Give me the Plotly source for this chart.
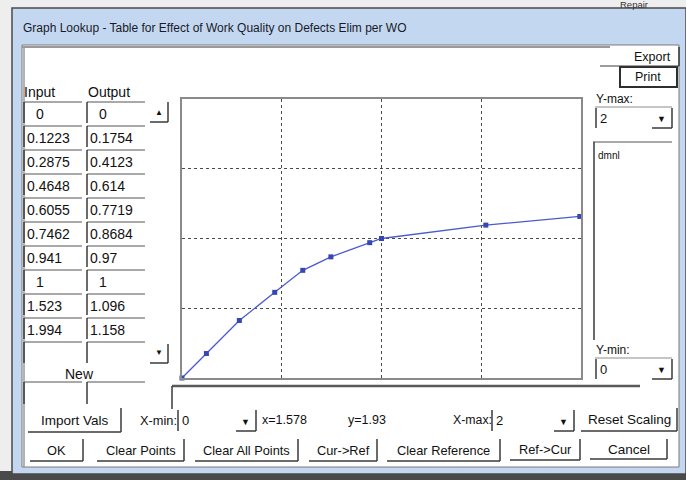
import plotly.graph_objects as go

# ---------------- data ----------------
input_vals = [0, 0.1223, 0.2875, 0.4648, 0.6055, 0.7462, 0.941, 1, 1.523, 1.994]
output_vals = [0, 0.1754, 0.4123, 0.614, 0.7719, 0.8684, 0.97, 1, 1.096, 1.158]
x_min, x_max = 0, 2
y_min, y_max = 0, 2
grid_ticks = [0.5, 1.0, 1.5]
cursor_x, cursor_y = 1.578, 1.93
title_text = "Graph Lookup - Table for Effect of Work Quality on Defects Elim per WO"
units_text = "dmnl"

W, H = 686, 480
FONT = "Liberation Sans, Arial, sans-serif"
DARK = "#3a3a3a"
MID = "#8c8c8c"


def X(px):
    return px / W


def Y(py):
    return 1 - py / H


shapes = []
annotations = []


def rect(x0, y0, x1, y1, fill=None, line=None, width=1):
    shapes.append(dict(type="rect", xref="paper", yref="paper",
                       x0=X(x0), x1=X(x1), y0=Y(y1), y1=Y(y0),
                       fillcolor=fill if fill else "rgba(0,0,0,0)",
                       line=dict(color=line if line else "rgba(0,0,0,0)", width=width if line else 0),
                       layer="below"))


def seg(x0, y0, x1, y1, color=DARK, width=1):
    shapes.append(dict(type="line", xref="paper", yref="paper",
                       x0=X(x0), x1=X(x1), y0=Y(y0), y1=Y(y1),
                       line=dict(color=color, width=width), layer="above"))


def text(x, y, s, size=12.5, anchor="left", color="#111111", family=FONT):
    annotations.append(dict(xref="paper", yref="paper", x=X(x), y=Y(y), text=s,
                            showarrow=False, xanchor=anchor, yanchor="middle",
                            font=dict(size=size, color=color, family=family)))


def button(x0, y0, x1, y1, label, size=12.8):
    seg(x1, y0, x1, y1, DARK, 1.5)
    seg(x0, y1, x1, y1, DARK, 1.5)
    text((x0 + x1) / 2, (y0 + y1) / 2, label, size=size, anchor="center")


def combo(x0, y0, x1, y1, value, arrow_x):
    seg(x0, y0, x0, y1, DARK, 1.5)
    text(x0 + 2, (y0 + y1) / 2, value, size=13)
    seg(arrow_x + 12, y0, arrow_x + 12, y1, DARK, 1.5)
    seg(arrow_x - 8, y1, arrow_x + 12, y1, DARK, 1.5)
    text(arrow_x + 1, (y0 + y1) / 2 + 1, "▼", size=9, anchor="center")


# ---------------- window chrome ----------------
rect(0, 0, 686, 480, fill="#eeeeee")
rect(0, 471, 686, 480, fill="#4a4a4a")
rect(12, 8, 686, 474, fill="#c3d8f0", line="#4a4a4a", width=1.5)
rect(22, 45, 679, 467, fill="#ffffff", line="#7a7a7a", width=1)
seg(22, 47, 610, 47, "#9a9a9a", 2)
seg(24, 47, 24, 467, "#9a9a9a", 1.5)
text(21, 28, title_text, size=12, color="#1a1a28")
text(618, 5, "Repair", size=9.5, color="#333333")

# right-side controls
text(673, 57, "Export", size=12.5, anchor="right")
seg(679, 47, 679, 66, DARK, 1.5)
seg(600, 66, 679, 66, DARK, 1)
rect(620, 67, 677, 87, line="#2e2e2e", width=2)
text(648, 77, "Print", size=12.5, anchor="center")

text(594, 99, "Y-max:", size=12)
seg(595, 107, 672, 107, MID, 1)
combo(596, 108, 672, 128, str(y_max), 660)

seg(593, 142, 672, 142, MID, 1.5)
seg(594, 142, 594, 340, DARK, 1.5)
text(596, 155, units_text, size=10)

text(594, 350, "Y-min:", size=12)
seg(595, 358, 672, 358, MID, 1)
combo(596, 359, 672, 379, str(y_min), 660)

# ---------------- lookup table ----------------
TS = 14
text(22, 92, "Input", size=TS)
text(86, 92, "Output", size=TS)
row0 = 102
step = 24
n_rows = 11
for i in range(n_rows):
    top = row0 + step * i
    seg(24, top, 82, top, MID, 1.5)
    seg(87, top, 145, top, MID, 1.5)
    seg(24, top, 24, top + 21, DARK, 1.5)
    seg(87, top, 87, top + 21, DARK, 1.5)
for i, (a, b) in enumerate(zip(input_vals, output_vals)):
    cy = row0 + step * i + 12
    for v, x0 in ((a, 25), (b, 88)):
        s = f"{v:g}"
        if float(v).is_integer():
            text(x0 + 15, cy, s, size=TS, anchor="center")
        else:
            text(x0, cy, s, size=TS)

# scroll arrows
text(159, 113, "▲", size=8, anchor="center")
seg(168, 102, 168, 122, DARK, 1.5)
seg(150, 122, 168, 122, DARK, 1.5)
text(159, 352, "▼", size=8, anchor="center")
seg(168, 344, 168, 363, DARK, 1.5)
seg(150, 363, 168, 363, DARK, 1.5)

text(79, 374, "New", size=TS, anchor="center")
seg(24, 382, 82, 382, MID, 1.5)
seg(87, 382, 145, 382, MID, 1.5)
seg(24, 382, 24, 404, DARK, 1.5)
seg(87, 382, 87, 404, DARK, 1.5)

# slider strip below the plot
seg(172, 386, 640, 386, "#5a5a5a", 2.5)
seg(172, 386, 172, 409, DARK, 1.5)

# ---------------- bottom controls ----------------
button(28, 408, 121, 432, "Import Vals", size=13.5)
text(138, 420, "X-min:", size=12.8)
combo(178, 410, 256, 431, str(x_min), 244)
text(260, 420, f"x={cursor_x:g}", size=12.5)
text(346, 420, f"y={cursor_y:g}", size=12.5)
text(451, 420, "X-max:", size=12.3)
combo(492, 410, 573, 431, str(x_max), 562)
button(581, 408, 677, 431, "Reset Scaling", size=13.5)

button(30, 439, 83, 461, "OK")
button(97, 439, 184, 461, "Clear Points")
button(195, 439, 298, 461, "Clear All Points")
button(309, 439, 377, 461, "Cur->Ref")
button(387, 439, 500, 461, "Clear Reference")
button(510, 439, 580, 460, "Ref->Cur")
button(590, 439, 667, 459, "Cancel", size=13.5)

# ---------------- the lookup curve ----------------
fig = go.Figure()
fig.add_trace(go.Scatter(
    x=input_vals, y=output_vals, mode="lines+markers",
    line=dict(color="#4a5ad0", width=1.3),
    marker=dict(symbol="square", size=5, color="#3646b4"),
    cliponaxis=False, hoverinfo="skip", showlegend=False))

axis_common = dict(showgrid=True, gridcolor="#4a4a4a", gridwidth=1, griddash="3px,3px",
                   tickvals=grid_ticks, showticklabels=False, ticks="",
                   zeroline=False, showline=True, mirror=True, linecolor="#8a8a8a",
                   linewidth=1.5, fixedrange=True)
fig.update_layout(
    width=W, height=H,
    margin=dict(l=0, r=0, t=0, b=0),
    paper_bgcolor="#eeeeee", plot_bgcolor="#ffffff",
    xaxis=dict(range=[x_min, x_max], domain=[X(182), X(581)], **axis_common),
    yaxis=dict(range=[y_min, y_max], domain=[Y(378), Y(99)], **axis_common),
    shapes=shapes, annotations=annotations,
    showlegend=False,
)
fig.write_html("out.html", config={"displayModeBar": False},
               post_script="document.body.style.margin='0';document.body.style.overflow='hidden';")
